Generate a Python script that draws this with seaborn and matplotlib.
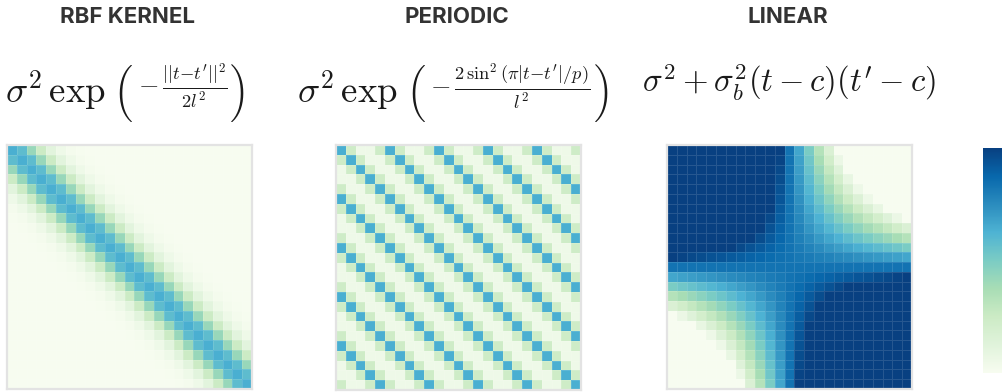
import os
import numpy as np
import pandas as pd
import matplotlib
matplotlib.use("Agg")
import matplotlib.pyplot as plt
from matplotlib.font_manager import FontProperties
import seaborn as sns

sns.set_theme(style="white")
plt.rcParams["font.family"] = ["Inter", "DejaVu Sans"]
plt.rcParams["mathtext.fontset"] = "cm"

# ---------------- data (colour scale 0..1) ----------------
titles = ["RBF KERNEL", "PERIODIC", "LINEAR"]
n_points = 25

# RBF: value by distance |i-j| from the diagonal
rbf_by_offset = [0.64, 0.58, 0.42, 0.25, 0.115, 0.047, 0.016, 0.005,
                 0, 0, 0, 0, 0, 0, 0, 0, 0, 0, 0, 0, 0, 0, 0, 0, 0]
# Periodic: value by |i-j| mod 5
periodic_by_phase = [0.64, 0.24, 0.05, 0.05, 0.24]

# Linear: cell levels (out of 72) read row by row
linear_levels = [
    [72]*12 + [60, 48, 36, 24, 12] + [0]*8,
    [72]*11 + [71, 60, 49, 38, 27, 16, 5] + [0]*7,
    [72]*11 + [70, 60, 50, 40, 30, 20, 10] + [0]*7,
    [72]*11 + [69, 60, 51, 42, 33, 24, 15, 6] + [0]*6,
    [72]*11 + [68, 60, 52, 44, 36, 28, 20, 12, 4] + [0]*5,
    [72]*11 + [67, 60, 53, 46, 39, 32, 25, 18, 11, 4] + [0]*4,
    [72]*11 + [66, 60, 54, 48, 42, 36, 30, 24, 18, 12, 6] + [0]*3,
    [72]*10 + [70, 65, 60, 55, 50, 45, 40, 35, 30, 25, 20, 15, 10, 5, 0],
    [72]*10 + [68, 64, 60, 56, 52, 48, 44, 40, 36, 32, 28, 24, 20, 16, 12],
    [72]*9 + [69, 66, 63, 60, 57, 54, 51, 48, 45, 42, 39, 36, 33, 30, 27, 24],
    [72]*7 + [70, 68, 66, 64, 62, 60, 58, 56, 54, 52, 50, 48, 46, 44, 42, 40, 38, 36],
    [72, 71, 70, 69, 68, 67, 66, 65, 64, 63, 62, 61, 60, 59, 58, 57, 56, 55, 54, 53, 52, 51, 50, 49, 48],
    [60]*25,
    [48, 49, 50, 51, 52, 53, 54, 55, 56, 57, 58, 59, 60, 61, 62, 63, 64, 65, 66, 67, 68, 69, 70, 71, 72],
    [36, 38, 40, 42, 44, 46, 48, 50, 52, 54, 56, 58, 60, 62, 64, 66, 68, 70] + [72]*7,
    [24, 27, 30, 33, 36, 39, 42, 45, 48, 51, 54, 57, 60, 63, 66, 69] + [72]*9,
    [12, 16, 20, 24, 28, 32, 36, 40, 44, 48, 52, 56, 60, 64, 68] + [72]*10,
    [0, 5, 10, 15, 20, 25, 30, 35, 40, 45, 50, 55, 60, 65, 70] + [72]*10,
    [0]*3 + [6, 12, 18, 24, 30, 36, 42, 48, 54, 60, 66] + [72]*11,
    [0]*4 + [4, 11, 18, 25, 32, 39, 46, 53, 60, 67] + [72]*11,
    [0]*5 + [4, 12, 20, 28, 36, 44, 52, 60, 68] + [72]*11,
    [0]*6 + [6, 15, 24, 33, 42, 51, 60, 69] + [72]*11,
    [0]*7 + [10, 20, 30, 40, 50, 60, 70] + [72]*11,
    [0]*7 + [5, 16, 27, 38, 49, 60, 71] + [72]*11,
    [0]*8 + [12, 24, 36, 48, 60] + [72]*12,
]
linear_max_level = 72

# ---------------- tables ----------------
idx = np.arange(n_points)
dist = np.abs(idx[:, None] - idx[None, :])
rbf_df = pd.DataFrame(np.asarray(rbf_by_offset)[dist])
per_df = pd.DataFrame(np.asarray(periodic_by_phase)[dist % len(periodic_by_phase)])
lin_df = pd.DataFrame(np.asarray(linear_levels, dtype=float) / linear_max_level)
tables = [rbf_df, per_df, lin_df]

# ---------------- figure ----------------
W, H = 1003, 392
fig = plt.figure(figsize=(W / 100, H / 100), dpi=100)
renderer = fig.canvas.get_renderer()
TXT = "#1a1a1a"

def box(x0, y0, x1, y1):
    return [x0 / W, 1 - y1 / H, (x1 - x0) / W, (y1 - y0) / H]

ax_boxes = [box(7, 145, 252, 389), box(336, 145, 581, 390), box(667, 145, 912, 389)]
title_x = [128, 457, 788]
cax = fig.add_axes(box(983, 148, 1002, 373))

for k in range(3):
    ax = fig.add_axes(ax_boxes[k])
    sns.heatmap(tables[k], ax=ax, cmap="GnBu", vmin=0, vmax=1,
                cbar=(k == 2), cbar_ax=cax if k == 2 else None,
                xticklabels=False, yticklabels=False, square=False,
                linewidths=0.5, linecolor=(1, 1, 1, 0.12))
    for s in ax.spines.values():
        s.set_visible(True)
        s.set_color("#e3e3e3")
        s.set_linewidth(1.6)
    fig.text(title_x[k] / W, 1 - 17 / H, titles[k], ha="center", va="center",
             fontsize=16, fontweight="bold", color="#333333")

cax.set_yticks([])
cax.set_xticks([])
for s in cax.spines.values():
    s.set_visible(False)

# ---------------- formulas ----------------
cmex_path = os.path.join(matplotlib.get_data_path(), "fonts", "ttf", "cmex10.ttf")
have_cmex = os.path.exists(cmex_path)

def big_paren(side):
    if have_cmex:
        fp = FontProperties(fname=cmex_path, size=23)
        ch = "\xb3" if side == "l" else "\xb4"
        return dict(s=ch, fontproperties=fp)
    return dict(s="$($" if side == "l" else "$)$", fontsize=40)

def layout(xc, pieces):
    objs, total = [], 0.0
    for p in pieces:
        kw = dict(p["kw"])
        s = kw.pop("s")
        t = fig.text(0, 0, s, ha="left", va=p["va"], color=TXT, **kw)
        w = t.get_window_extent(renderer).width
        objs.append((t, w, p))
        total += p["gap"] + w
    x = xc - total / 2
    for t, w, p in objs:
        x += p["gap"]
        t.set_position((x / W, 1 - p["y"] / H))
        x += w

MAIN = 26.5
FRAC = 19
formula1 = [
    dict(kw=dict(s=r"$\sigma^2\,\exp$", fontsize=MAIN), va="baseline", y=102, gap=0),
    dict(kw=big_paren("l"), va="center", y=93.5, gap=8),
    dict(kw=dict(s=r"$-\,\frac{||t{-}t'||^2}{2l^2}$", fontsize=FRAC), va="center", y=86, gap=5),
    dict(kw=big_paren("r"), va="center", y=93.5, gap=3),
]
formula2 = [
    dict(kw=dict(s=r"$\sigma^2\,\exp$", fontsize=MAIN), va="baseline", y=102, gap=0),
    dict(kw=big_paren("l"), va="center", y=93.5, gap=8),
    dict(kw=dict(s=r"$-\,\frac{2\,\sin^2(\pi|t{-}t'|/p)}{l^2}$", fontsize=FRAC), va="center", y=86, gap=5),
    dict(kw=big_paren("r"), va="center", y=93.5, gap=3),
]
formula3 = [
    dict(kw=dict(s=r"$\sigma^2+\sigma_b^2(t-c)(t'-c)$", fontsize=23.6), va="baseline", y=92, gap=0),
]
layout(127, formula1)
layout(455, formula2)
layout(789, formula3)

fig.savefig("out.png", dpi=100)
